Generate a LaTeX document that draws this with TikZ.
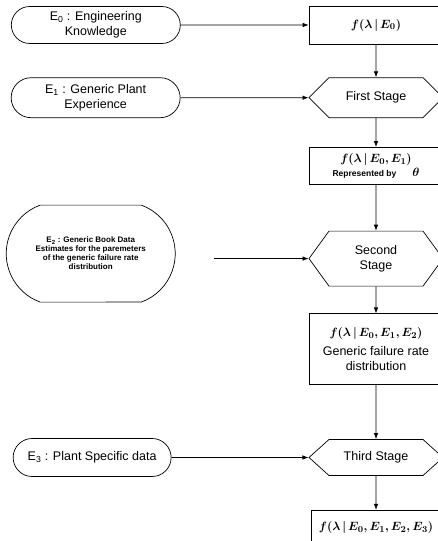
\documentclass[tikz,border=0pt]{standalone}
\usepackage{fontspec}
\setmainfont{Liberation Sans}
\usepackage{bm}
\usetikzlibrary{positioning, arrows.meta, shapes.misc, shapes.symbols}

\begin{document}
\begin{tikzpicture}[font=\fontsize{12.5}{15}\selectfont, line width=0.7pt,
    distbox/.style={draw, minimum width=134pt, inner sep=2pt, align=center},
    stagebox/.style={draw, signal, signal to=east and west, minimum width=134pt, inner sep=2pt, align=center},
    evidence/.style={draw, rounded rectangle, minimum width=173pt, inner sep=2pt, align=center},
    flow/.style={-{Latex[length=6pt, width=4.5pt]}}]
  \useasboundingbox (0,0) rectangle (437pt,-541pt);

  % right column: distributions and stages
  \node[distbox, minimum height=38pt] (box1) at (376pt,-25pt)
    {$\bm{f(\lambda\,|\,E_0)}$};
  \node[stagebox, minimum height=40pt, signal pointer angle=90, below=33pt of box1] (first)
    {First Stage};
  \node[distbox, minimum height=37pt, below=29pt of first] (box2)
    {$\bm{f(\lambda\,|\,E_0,E_1)}$\\[-1pt]
     {\fontsize{8.5}{10}\selectfont\bfseries Represented by}\hspace{16pt}$\bm{\theta}$};
  \node[stagebox, minimum height=55pt, signal pointer angle=108, below=46pt of box2] (second)
    {Second\\Stage};
  \node[distbox, minimum height=71pt, below=27pt of second] (box3)
    {$\bm{f(\lambda\,|\,E_0,E_1,E_2)}$\\[4pt]
     Generic failure rate\\distribution};
  \node[stagebox, minimum height=36pt, signal pointer angle=84, below=54pt of box3] (third)
    {Third Stage};
  \node[distbox, minimum width=130pt, minimum height=34pt, below=34pt of third] (box4)
    {$\bm{f(\lambda\,|\,E_0,E_1,E_2,E_3)}$};

  % left column: evidence
  \node[evidence, minimum height=37pt, left=128pt of box1] (e0)
    {E\textsubscript{0} : Engineering\\Knowledge};
  \node[evidence, minimum height=40pt, left=128pt of first] (e1)
    {E\textsubscript{1} : Generic Plant\\Experience};
  \node[evidence, minimum height=97pt, rounded rectangle arc length=140,
        font=\fontsize{8}{9}\selectfont\bfseries, left=133pt of second, yshift=5pt] (e2)
    {E\textsubscript{2} : Generic Book Data\\Estimates for the paremeters\\of the generic failure rate\\distribution};
  \node[evidence, minimum width=162pt, minimum height=38pt, left=137pt of third] (e3)
    {E\textsubscript{3} : Plant Specific data};

  \draw[flow] (e0) -- (box1);
  \draw[flow] (e1) -- (first);
  \draw[flow, shorten <=38pt] (e2.east |- second.west) -- (second.west);
  \draw[flow] (e3) -- (third);

  \draw[flow] (box1) -- (first);
  \draw[flow] (first) -- (box2);
  \draw[flow] (box2) -- (second);
  \draw[flow] (second) -- (box3);
  \draw[flow] (box3) -- (third);
  \draw[flow] (third) -- (box4);
\end{tikzpicture}
\end{document}
